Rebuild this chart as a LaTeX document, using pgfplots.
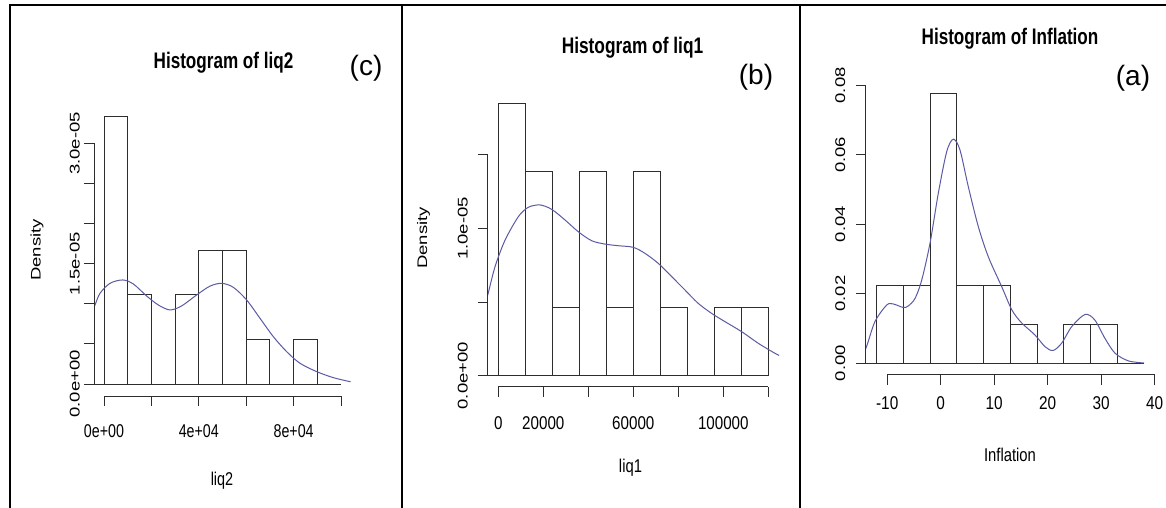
\documentclass[border=0pt]{standalone}
\usepackage{graphicx}
\usepackage{pgfplots}
\pgfplotsset{compat=1.18}
\usepackage{fontspec}
\setmainfont{Liberation Sans}
\definecolor{dens}{RGB}{90,90,165}
\definecolor{barc}{RGB}{45,45,45}
\newcommand\vs[1]{\scalebox{1}[0.76]{#1}}
\tikzset{rline/.style={barc, line width=0.9pt}}
\pgfplotsset{
 rhist/.style={
  scale only axis,
  anchor=south west,
  axis lines*=left,
  axis line style={draw=none},
  tick align=outside,
  major tick length=10pt,
  every tick/.style={barc, line width=0.9pt},
  scaled ticks=false,
  clip mode=individual,
  tick label style={font=\fontsize{18.5}{20}\selectfont},
 },
 hbar/.style={ybar interval, draw=barc, fill=white, line width=0.9pt},
 dcurve/.style={dens, line width=1pt, smooth, no markers},
}
\begin{document}
\begin{tikzpicture}[x=1pt,y=1pt]
\useasboundingbox (0,0) rectangle (1166,508);
% table borders
\draw[line width=2pt] (9,503) -- (1166,503);
\draw[line width=2pt] (10,504) -- (10,0);
\draw[line width=2pt] (402,504) -- (402,0);
\draw[line width=2pt] (800,504) -- (800,0);

% ---------------- Panel (c): liq2 ----------------
\begin{axis}[rhist, at={(94.5pt,112pt)}, width=256pt, height=290.3pt,
  xmin=-4000, xmax=104000, ymin=-1.5e-6, ymax=3.47e-5,
  xtick={0,20000,40000,60000,80000,100000},
  xticklabels={0e+00,,4e+04,,8e+04,},
  ytick={0,0.000005,0.00001,0.000015,0.00002,0.000025,0.00003},
  yticklabels={\vs{0.0e+00},,,\vs{1.5e-05},,,\vs{3.0e-05}},
  xticklabel style={anchor=base, yshift=-32pt, xscale=0.77},
  yticklabel style={xshift=-5pt, rotate=90, anchor=base},
]
\addplot[rline] coordinates {(-4000,0) (100000,0)};
\addplot[hbar] coordinates {(0,3.333e-5) (10000,1.111e-5) (20000,0) (30000,1.111e-5) (40000,1.667e-5) (50000,1.667e-5) (60000,5.556e-6) (70000,0) (80000,5.556e-6) (90000,0)};
\addplot[dcurve] coordinates {(-6000,8.6e-6) (-3797,9.85e-6) (-1688,11.3e-6) (2531,12.55e-6) (7875,12.97e-6) (12375,12.47e-6) (18000,10.97e-6) (22922,9.85e-6) (27845,9.23e-6) (32765,9.73e-6) (39094,11.1e-6) (44721,12.2e-6) (49644,12.55e-6) (54566,12.05e-6) (60191,10.47e-6) (65816,8.19e-6) (71441,5.9e-6) (77066,4.03e-6) (82692,2.58e-6) (89722,1.54e-6) (96748,0.79e-6) (103787,0.29e-6) (106000,0.2e-6)};
\draw[rline] (axis cs:0,-1.5e-6) -- (axis cs:100000,-1.5e-6);
\draw[rline] (axis cs:-4000,0) -- (axis cs:-4000,3e-5);
\end{axis}

% ---------------- Panel (b): liq1 ----------------
\begin{axis}[rhist, at={(487.5pt,121.4pt)}, width=291.6pt, height=294.4pt,
  xmin=-4800, xmax=124800, ymin=-0.741e-6, ymax=1.926e-5,
  xtick={0,20000,40000,60000,80000,100000,120000},
  xticklabels={0,20000,,60000,,100000,},
  ytick={0,0.000005,0.00001,0.000015},
  yticklabels={\vs{0.0e+00},,\vs{1.0e-05},},
  xticklabel style={anchor=base, yshift=-33.3pt, xscale=0.82},
  yticklabel style={xshift=-10pt, rotate=90, anchor=base},
]
\addplot[rline] coordinates {(-4800,0) (120000,0)};
\addplot[hbar] coordinates {(0,1.852e-5) (12000,1.389e-5) (24000,4.63e-6) (36000,1.389e-5) (48000,4.63e-6) (60000,1.389e-5) (72000,4.63e-6) (84000,0) (96000,4.63e-6) (108000,4.63e-6) (120000,0)};
\addplot[dcurve] coordinates {(-6000,5.0e-6) (-4711,5.48e-6) (-1467,7.4e-6) (2978,9.2e-6) (8888,10.8e-6) (13333,11.44e-6) (18532,11.6e-6) (23731,11.3e-6) (29641,10.58e-6) (35552,9.78e-6) (41507,9.17e-6) (47417,8.94e-6) (53328,8.83e-6) (59994,8.72e-6) (65193,8.31e-6) (71104,7.63e-6) (77059,6.73e-6) (82969,5.82e-6) (88880,4.91e-6) (94835,4.23e-6) (100745,3.67e-6) (108167,2.99e-6) (115542,2.2e-6) (122965,1.52e-6) (126000,1.3e-6)};
\draw[rline] (axis cs:0,-0.741e-6) -- (axis cs:120000,-0.741e-6);
\draw[rline] (axis cs:-4800,0) -- (axis cs:-4800,1.5e-5);
\end{axis}

% ---------------- Panel (a): Inflation ----------------
\begin{axis}[rhist, at={(865.8pt,133.2pt)}, width=288.9pt, height=301.2pt,
  xmin=-14, xmax=40, ymin=-0.0034, ymax=0.0834,
  xtick={-10,0,10,20,30,40},
  xticklabels={-10,0,10,20,30,40},
  ytick={0,0.02,0.04,0.06,0.08},
  yticklabels={\vs{0.00},\vs{0.02},\vs{0.04},\vs{0.06},\vs{0.08}},
  xticklabel style={anchor=base, yshift=-25pt, xscale=0.83},
  yticklabel style={xshift=-10.8pt, rotate=90, anchor=base},
]
\addplot[rline] coordinates {(-14,0) (38,0)};
\addplot[hbar] coordinates {(-12,0.02222) (-7,0.02222) (-2,0.07778) (3,0.02222) (8,0.02222) (13,0.01111) (18,0) (23,0.01111) (28,0.01111) (33,0)};
\addplot[dcurve] coordinates {(-15,0.0030) (-14,0.0042) (-12.3,0.0119) (-10.1,0.0167) (-8.85,0.0170) (-7.0,0.0160) (-6.1,0.0164) (-4.8,0.0186) (-3.55,0.0239) (-2.0,0.0345) (-0.45,0.0489) (1.12,0.0609) (2.36,0.0645) (3.6,0.0614) (5.16,0.0508) (7.03,0.0393) (8.9,0.0306) (11.4,0.0220) (13.3,0.0153) (15.1,0.0116) (17.6,0.0081) (19.5,0.0047) (21.0,0.0036) (22.6,0.0057) (24.5,0.0105) (27.0,0.0140) (28.8,0.0124) (30.7,0.0071) (32.6,0.0028) (35.1,0.0006) (38.0,0.0)};
\draw[rline] (axis cs:-10,-0.0034) -- (axis cs:40,-0.0034);
\draw[rline] (axis cs:-14,0) -- (axis cs:-14,0.08);
\end{axis}

% titles
\node[anchor=base, xscale=0.76, font=\fontsize{22.5}{24}\selectfont\bfseries] at (223.5,439.7) {Histogram of liq2};
\node[anchor=base, xscale=0.77, font=\fontsize{22.5}{24}\selectfont\bfseries] at (632.5,454.7) {Histogram of liq1};
\node[anchor=base, xscale=0.76, font=\fontsize{22.5}{24}\selectfont\bfseries] at (1010,463.7) {Histogram of Inflation};
% axis labels
\node[anchor=base, xscale=0.78, font=\fontsize{18.5}{20}\selectfont] at (222,22) {liq2};
\node[anchor=base, xscale=0.8, font=\fontsize{18.5}{20}\selectfont] at (630.5,35) {liq1};
\node[anchor=base, xscale=0.8, font=\fontsize{18.5}{20}\selectfont] at (1010,46) {Inflation};
\node[rotate=90, yscale=0.75, font=\fontsize{18.5}{20}\selectfont] at (37,258) {Density};
\node[rotate=90, yscale=0.75, font=\fontsize{18.5}{20}\selectfont] at (423.5,270) {Density};
% panel letters
\node[font=\fontsize{28}{30}\selectfont] at (366,439.5) {(c)};
\node[font=\fontsize{28}{30}\selectfont] at (756,431) {(b)};
\node[font=\fontsize{28}{30}\selectfont] at (1133,430) {(a)};
\end{tikzpicture}
\end{document}
